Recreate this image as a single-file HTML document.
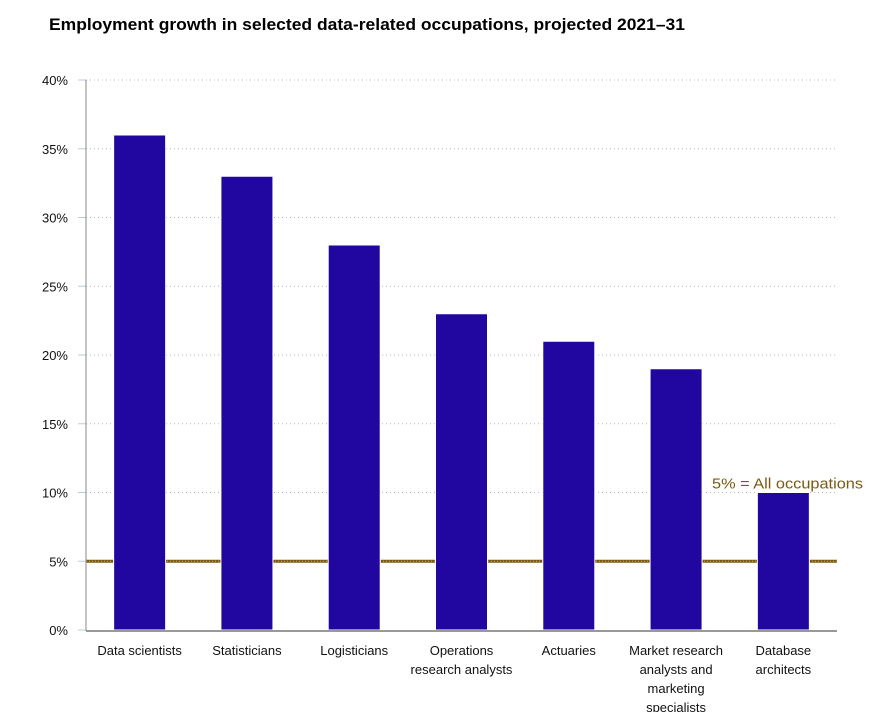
<!DOCTYPE html>
<html><head><meta charset="utf-8"><style>
body{margin:0;background:#fff;width:893px;height:712px;overflow:hidden;font-family:"Liberation Sans",sans-serif}
</style></head><body>
<svg id="chart" width="893" height="712" xmlns="http://www.w3.org/2000/svg">
<text x="49" y="30" font-size="17" textLength="636" lengthAdjust="spacingAndGlyphs" font-weight="bold" fill="#000" font-family="Liberation Sans, sans-serif">Employment growth in selected data-related occupations, projected 2021–31</text>
</svg>
<script>
const categories=[["Data scientists"],["Statisticians"],["Logisticians"],["Operations","research analysts"],["Actuaries"],["Market research","analysts and","marketing","specialists"],["Database","architects"]];
const values=[36,33,28,23,21,19,10];
const tickValues=[0,5,10,15,20,25,30,35,40];
const tickLabels=["0%","5%","10%","15%","20%","25%","30%","35%","40%"];
const refValue=5;
const refLabel="5% = All occupations";

const svg=document.getElementById('chart');
const NS="http://www.w3.org/2000/svg";
const x0=86,x1=837,yTop=80,yBot=630,vmax=40;
const y=v=>yBot-(v/vmax)*(yBot-yTop);
const band=(x1-x0)/categories.length;
const xc=i=>x0+band*(i+0.5);
const bw=52;
function mk(t,a){const e=document.createElementNS(NS,t);for(const k in a)e.setAttribute(k,a[k]);svg.appendChild(e);return e;}
tickValues.forEach((v,i)=>{
  if(v>0){const g=mk('line',{x1:x0,x2:x1,y1:y(v),y2:y(v),stroke:'#bbb','stroke-dasharray':'1,3'});
  
  }
  const tk=mk('line',{x1:x0-8,x2:x0,y1:y(v),y2:y(v),stroke:'#b8cce4'});
  
  
  const t=mk('text',{x:x0-18,y:y(v)+5,'text-anchor':'end','font-size':13,fill:'#111'});
  t.textContent=tickLabels[i];
  
  
});
const ref=mk('line',{x1:x0,x2:x1,y1:y(refValue),y2:y(refValue),stroke:'#7a5a12','stroke-width':3});


const refd=mk('line',{x1:x0,x2:x1,y1:y(refValue),y2:y(refValue),stroke:'#c8b070','stroke-width':1,'stroke-dasharray':'1,2'});


values.forEach((v,i)=>{
  const r=mk('rect',{x:xc(i)-bw/2,y:y(v),width:bw,height:yBot-y(v),fill:'#2206a0',stroke:'#fff','stroke-width':1});
  
  
  const t=mk('text',{x:xc(i),'text-anchor':'middle','font-size':13,fill:'#111'});
  
  
  categories[i].forEach((ln,j)=>{const s=document.createElementNS(NS,'tspan');s.setAttribute('x',xc(i));s.setAttribute('y',655+j*19);s.textContent=ln;t.appendChild(s);});
});
const ax=mk('line',{x1:x0,x2:x0,y1:yTop,y2:yBot+1,stroke:'#888'});


const bx=mk('line',{x1:x0,x2:x1,y1:yBot+1,y2:yBot+1,stroke:'#999','stroke-width':2});


const rl=mk('text',{x:712,y:y(10)-4,'font-size':15,textLength:151,lengthAdjust:'spacingAndGlyphs',fill:'#7a5a12'});
rl.textContent=refLabel;


</script>
</body></html>
